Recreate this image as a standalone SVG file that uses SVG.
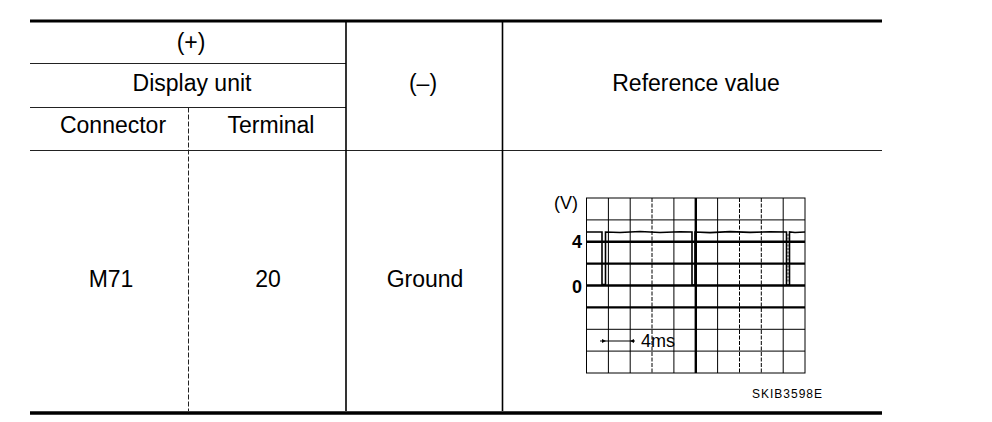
<svg xmlns="http://www.w3.org/2000/svg" width="992" height="422" viewBox="0 0 992 422">
<style>
.t{font-family:"Liberation Sans",Arial,sans-serif;font-size:23px;fill:#000;text-anchor:middle}
.thin{stroke:#222;stroke-width:1.2;fill:none}
.thick{stroke:#000;fill:none}
.g{stroke:#000;stroke-width:1;fill:none}
.gt{stroke:#000;stroke-width:2.4;fill:none}
.gd{stroke:#000;stroke-width:1;stroke-dasharray:4 1.5;fill:none}
.lbl{font-family:"Liberation Sans",Arial,sans-serif;font-size:18px;fill:#000}
</style>
<rect width="992" height="422" fill="#fff"/>
<g id="table">
<line class="thick" x1="30" y1="21" x2="882" y2="21" stroke-width="3"/>
<line class="thin" x1="30" y1="63.5" x2="346" y2="63.5"/>
<line class="thin" x1="30" y1="107.5" x2="346" y2="107.5"/>
<line class="thin" x1="30" y1="150.5" x2="882" y2="150.5"/>
<line class="thick" x1="30" y1="413" x2="882" y2="413" stroke-width="3.5"/>
<line x1="188.5" y1="107.5" x2="188.5" y2="411" stroke="#222" stroke-width="1" stroke-dasharray="5 2"/>
<line x1="346" y1="21" x2="346" y2="411" stroke="#000" stroke-width="1.6"/>
<line x1="502.5" y1="21" x2="502.5" y2="411" stroke="#000" stroke-width="1.6"/>
</g>
<g id="hdr-plus"><text class="t" x="191" y="50">(+)</text></g>
<g id="hdr-display"><text class="t" x="192" y="91">Display unit</text></g>
<g id="hdr-connector"><text class="t" x="113" y="133">Connector</text></g>
<g id="hdr-terminal"><text class="t" x="271" y="133">Terminal</text></g>
<g id="hdr-minus"><text class="t" x="423" y="91">(–)</text></g>
<g id="hdr-ref"><text class="t" x="696" y="91">Reference value</text></g>
<g id="cell-m71"><text class="t" x="111" y="287">M71</text></g>
<g id="cell-20"><text class="t" x="268" y="287">20</text></g>
<g id="cell-ground"><text class="t" x="425" y="287">Ground</text></g>
<g id="graph">
<rect x="586.5" y="198" width="218.5" height="175" class="g"/>
<line class="g" x1="608.4" y1="198" x2="608.4" y2="373"/>
<line class="g" x1="630.2" y1="198" x2="630.2" y2="373"/>
<line class="gd" x1="652" y1="198" x2="652" y2="373"/>
<line class="g" x1="673.9" y1="198" x2="673.9" y2="373"/>
<line class="gt" x1="695.8" y1="198" x2="695.8" y2="373"/>
<line class="g" x1="717.6" y1="198" x2="717.6" y2="373"/>
<line class="gd" x1="739.5" y1="198" x2="739.5" y2="373"/>
<line class="gd" x1="761.3" y1="198" x2="761.3" y2="373"/>
<line class="g" x1="783.2" y1="198" x2="783.2" y2="373"/>
<line class="g" x1="586.5" y1="219.9" x2="805" y2="219.9"/>
<line class="gt" x1="586.5" y1="241.8" x2="805" y2="241.8"/>
<line class="gt" x1="586.5" y1="263.6" x2="805" y2="263.6"/>
<line class="gt" x1="586.5" y1="285.5" x2="805" y2="285.5"/>
<line class="gt" x1="586.5" y1="307.4" x2="805" y2="307.4"/>
<line class="g" x1="586.5" y1="329.3" x2="805" y2="329.3"/>
<line class="g" x1="586.5" y1="351.1" x2="805" y2="351.1"/>
<polyline fill="none" stroke="#000" stroke-width="1.6" points="587,232 602,232 602,284.5 605.5,284.5 605.5,232 620,232.5 640,231.5 660,232.5 680,231.8 692,232 692,285 695,285 695,232 710,232.6 730,231.6 750,232.4 770,231.8 786.5,232 786.5,285 789.5,285 789.5,232 795,232.5 805,232"/>
<line x1="788" y1="234" x2="788" y2="283" stroke="#000" stroke-width="0.8" stroke-dasharray="2 1.5"/>
<text class="lbl" x="554" y="209" font-size="17">(V)</text>
<text class="lbl" x="582" y="248" text-anchor="end" font-weight="bold" font-size="19">4</text>
<text class="lbl" x="582" y="293" text-anchor="end" font-weight="bold" font-size="19">0</text>
<line x1="600" y1="341" x2="635" y2="341" stroke="#000" stroke-width="1"/>
<polygon points="606,341 602,339 602,343" fill="#000"/>
<polygon points="630,341 634,339 634,343" fill="#000"/>
<text class="lbl" x="641" y="347" font-size="20">4ms</text>
<text x="752" y="398" font-family="Liberation Sans, Arial, sans-serif" font-size="12" textLength="70" fill="#000">SKIB3598E</text>
</g>
</svg>
